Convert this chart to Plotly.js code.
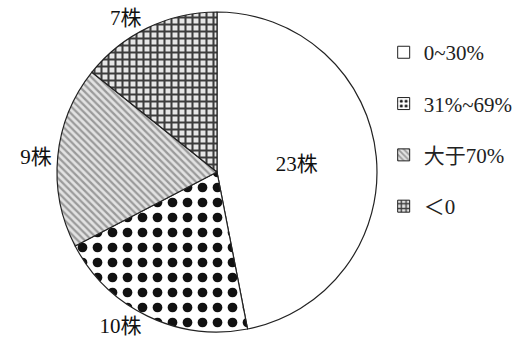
<!DOCTYPE html>
<html>
<head>
<meta charset="utf-8">
<script src="https://cdn.plot.ly/plotly-3.0.1.min.js"></script>
<style>
  html, body { margin: 0; padding: 0; background: #fff; }
  #chart { width: 515px; height: 338px; }
</style>
</head>
<body>
<div id="chart"></div>
<script>
// Share of plants by growth range
const categories = ['0~30%', '31%~69%', '大于70%', '＜0'];
const counts = [23, 10, 9, 7];
const unit = '株';

// Fill style for each category
const bgColors = ['#ffffff', '#ffffff', '#e2e2e2', '#e6e6e6'];
const patShapes = ['', '.', '\\', '+'];
const patFg = ['#000000', '#111111', '#9a9a9a', '#3c3c3c'];
const patSize = [8, 15, 5, 7];
const patSolidity = [0.3, 0.33, 0.45, 0.5];
const labelPos = ['inside', 'outside', 'outside', 'outside'];

const FONT = '"Liberation Serif", "Times New Roman", "Noto Sans CJK SC", serif';

const pie = {
  type: 'pie',
  labels: categories,
  values: counts,
  sort: false,
  direction: 'clockwise',
  rotation: 0,
  showlegend: false,
  hoverinfo: 'none',
  texttemplate: '%{value}' + unit,
  textposition: labelPos,
  insidetextorientation: 'horizontal',
  textfont: { family: FONT, size: 21, color: '#111' },
  outsidetextfont: { family: FONT, size: 21, color: '#111' },
  domain: { x: [0.1107, 0.7320], y: [0.0178, 0.9645] },
  marker: {
    colors: bgColors,
    line: { color: '#222', width: 1.2 },
    pattern: {
      shape: patShapes,
      fgcolor: patFg,
      bgcolor: bgColors,
      size: patSize,
      solidity: patSolidity
    }
  }
};

// Legend entries, one per category, spaced through legend groups
const legendTraces = categories.map((name, i) => ({
  type: 'bar',
  x: [null],
  y: [null],
  name: name,
  legendgroup: 'g' + i,
  showlegend: true,
  hoverinfo: 'skip',
  marker: {
    color: bgColors[i],
    line: { color: '#222', width: 1 },
    pattern: {
      shape: patShapes[i],
      fgcolor: patFg[i],
      bgcolor: bgColors[i],
      size: Math.min(patSize[i], 6),
      solidity: patSolidity[i]
    }
  }
}));

const layout = {
  width: 515,
  height: 338,
  margin: { l: 0, r: 0, t: 0, b: 0, autoexpand: false },
  paper_bgcolor: '#ffffff',
  plot_bgcolor: '#ffffff',
  xaxis: { visible: false },
  yaxis: { visible: false },
  showlegend: true,
  legend: {
    x: 0.745,
    y: 0.905,
    xanchor: 'left',
    yanchor: 'top',
    traceorder: 'grouped',
    tracegroupgap: 21,
    itemwidth: 30,
    font: { family: FONT, size: 21, color: '#222' },
    bgcolor: 'rgba(0,0,0,0)'
  }
};

Plotly.newPlot('chart', [pie].concat(legendTraces), layout, { staticPlot: true, displayModeBar: false });
</script>
</body>
</html>
